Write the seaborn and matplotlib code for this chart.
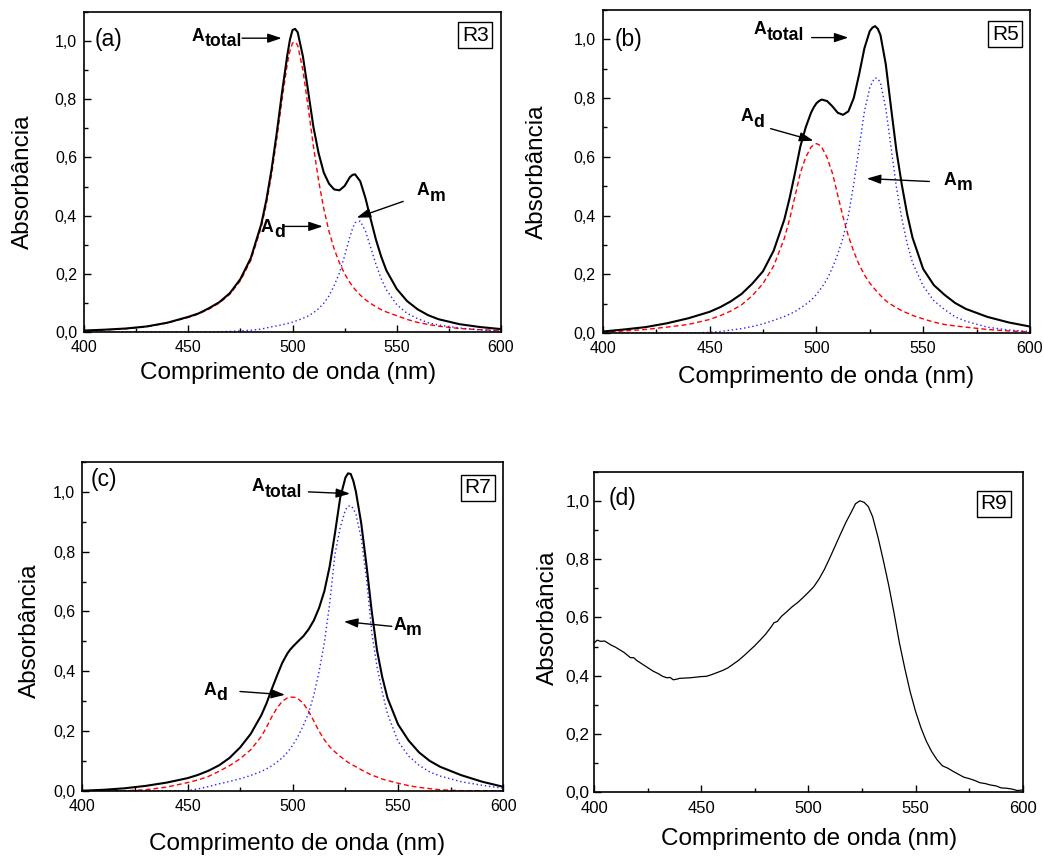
import matplotlib
matplotlib.use("Agg")
import matplotlib.pyplot as plt
from matplotlib.ticker import MultipleLocator
import seaborn as sns

# comprimentos de onda (nm) para os espectros ajustados (a), (b), (c)
wl = [400, 410, 420, 430, 440, 450, 455, 460, 465, 470, 475, 480,
      485, 487.5, 490, 492.5, 495, 497.5, 498.75, 500, 501.25, 502.5, 505, 507.5, 510,
      512.5, 515, 517.5, 520, 522.5, 525, 526.25, 527.5, 528.75, 530, 532.5, 535, 537.5,
      540, 542.5, 545, 550, 555, 560, 565, 570, 580, 590, 600]

# (a) R3
a_total = [0.005, 0.008, 0.012, 0.019, 0.032, 0.052, 0.064, 0.082, 0.103, 0.134, 0.182, 0.254,
           0.370, 0.455, 0.561, 0.687, 0.825, 0.951, 1.004, 1.038, 1.042, 1.030, 0.947, 0.828,
           0.706, 0.615, 0.548, 0.510, 0.490, 0.487, 0.502, 0.517, 0.532, 0.540, 0.542, 0.518,
           0.460, 0.388, 0.318, 0.260, 0.212, 0.148, 0.106, 0.078, 0.058, 0.044, 0.027, 0.017,
           0.010]
a_d = [0.004, 0.007, 0.011, 0.018, 0.031, 0.050, 0.062, 0.079, 0.100, 0.130, 0.176, 0.246,
       0.360, 0.441, 0.543, 0.666, 0.800, 0.922, 0.966, 0.993, 0.997, 0.985, 0.900, 0.773,
       0.640, 0.521, 0.424, 0.346, 0.285, 0.238, 0.200, 0.185, 0.170, 0.158, 0.146, 0.127,
       0.111, 0.098, 0.087, 0.077, 0.069, 0.056, 0.043, 0.033, 0.026, 0.020, 0.012, 0.008,
       0.005]
a_m = [0, 0, 0, 0, 0, 0, 0, 0, 0.001, 0.002, 0.004, 0.006,
       0.010, 0.014, 0.018, 0.021, 0.025, 0.029, 0.031, 0.034, 0.037, 0.040, 0.047, 0.055,
       0.066, 0.080, 0.099, 0.124, 0.160, 0.203, 0.262, 0.295, 0.327, 0.355, 0.376, 0.381,
       0.347, 0.290, 0.233, 0.184, 0.145, 0.094, 0.064, 0.046, 0.032, 0.024, 0.014, 0.007,
       0.003]

# (b) R5
b_total = [0.005, 0.012, 0.020, 0.033, 0.050, 0.072, 0.088, 0.108, 0.133, 0.168, 0.210, 0.280,
           0.386, 0.460, 0.545, 0.635, 0.700, 0.750, 0.768, 0.782, 0.790, 0.795, 0.790, 0.772,
           0.750, 0.743, 0.755, 0.800, 0.880, 0.970, 1.028, 1.040, 1.045, 1.036, 1.015, 0.915,
           0.765, 0.620, 0.505, 0.405, 0.325, 0.218, 0.163, 0.130, 0.102, 0.082, 0.055, 0.036,
           0.022]
b_d = [0.003, 0.007, 0.012, 0.020, 0.029, 0.046, 0.059, 0.075, 0.096, 0.127, 0.168, 0.228,
       0.322, 0.388, 0.465, 0.545, 0.598, 0.633, 0.641, 0.645, 0.641, 0.633, 0.598, 0.545,
       0.470, 0.395, 0.330, 0.277, 0.233, 0.198, 0.170, 0.159, 0.148, 0.138, 0.128, 0.110,
       0.097, 0.086, 0.076, 0.068, 0.060, 0.048, 0.037, 0.029, 0.024, 0.020, 0.012, 0.007,
       0.004]
b_m = [0, 0, 0, 0, 0, 0.002, 0.005, 0.010, 0.015, 0.022, 0.031, 0.043,
       0.056, 0.064, 0.073, 0.085, 0.097, 0.112, 0.121, 0.131, 0.143, 0.155, 0.183, 0.222,
       0.268, 0.325, 0.400, 0.508, 0.630, 0.755, 0.835, 0.856, 0.869, 0.866, 0.852, 0.765,
       0.630, 0.495, 0.390, 0.305, 0.240, 0.160, 0.110, 0.080, 0.055, 0.040, 0.020, 0.010,
       0.005]

# (c) R7
c_total = [0.0, 0.003, 0.008, 0.016, 0.027, 0.042, 0.053, 0.067, 0.085, 0.110, 0.145, 0.190,
           0.252, 0.292, 0.340, 0.385, 0.428, 0.460, 0.472, 0.482, 0.491, 0.500, 0.517, 0.540,
           0.570, 0.612, 0.668, 0.750, 0.860, 0.980, 1.048, 1.062, 1.060, 1.037, 1.000, 0.895,
           0.755, 0.600, 0.470, 0.380, 0.310, 0.222, 0.168, 0.128, 0.100, 0.080, 0.052, 0.030,
           0.013]
c_d = [0, 0, 0, 0.003, 0.012, 0.027, 0.036, 0.048, 0.065, 0.084, 0.107, 0.137,
       0.181, 0.212, 0.247, 0.277, 0.299, 0.311, 0.313, 0.313, 0.312, 0.308, 0.292, 0.266,
       0.233, 0.199, 0.170, 0.147, 0.130, 0.115, 0.101, 0.095, 0.089, 0.085, 0.080, 0.070,
       0.061, 0.052, 0.046, 0.039, 0.034, 0.025, 0.017, 0.011, 0.007, 0.003, 0, 0, 0]
c_m = [0, 0, 0, 0, 0, 0, 0.006, 0.014, 0.023, 0.031, 0.040, 0.051,
       0.064, 0.073, 0.083, 0.096, 0.110, 0.129, 0.140, 0.153, 0.167, 0.182, 0.218, 0.260,
       0.320, 0.400, 0.495, 0.625, 0.790, 0.880, 0.940, 0.952, 0.954, 0.944, 0.925, 0.845,
       0.710, 0.530, 0.415, 0.330, 0.257, 0.165, 0.116, 0.085, 0.063, 0.049, 0.030, 0.018,
       0.008]

# (d) R9 - espectro medido
wl_d = [400, 401.5, 403, 405, 406.5, 408, 410, 412, 414, 416, 417, 418.5, 420, 422.5, 425,
        427.5, 430, 432, 434, 435.5, 437, 438.5, 440, 442.5, 445, 447.5, 450, 452.5, 455,
        457.5, 460, 462.5, 465, 467.5, 470, 472.5, 475, 477.5, 480, 482.5, 484, 485.5, 487.5,
        490, 492.5, 495, 497.5, 500, 502.5, 505, 507.5, 510, 512.5, 515, 517.5, 520, 522,
        524, 526, 528, 530, 532.5, 535, 537.5, 540, 542.5, 545, 547.5, 550, 552.5, 555,
        557.5, 560, 562.5, 565, 567.5, 570, 572.5, 575, 577.5, 580, 582.5, 585, 587.5, 590,
        592.5, 595, 597.5, 600]
d_abs = [0.512, 0.522, 0.518, 0.519, 0.512, 0.505, 0.498, 0.489, 0.480, 0.468, 0.462, 0.462,
         0.452, 0.440, 0.428, 0.416, 0.407, 0.398, 0.393, 0.394, 0.386, 0.388, 0.391, 0.392,
         0.393, 0.395, 0.397, 0.398, 0.404, 0.411, 0.418, 0.427, 0.440, 0.453, 0.469, 0.486,
         0.503, 0.522, 0.542, 0.566, 0.582, 0.586, 0.604, 0.620, 0.637, 0.651, 0.668, 0.686,
         0.705, 0.732, 0.765, 0.804, 0.845, 0.886, 0.926, 0.961, 0.990, 1.000, 0.995, 0.980,
         0.945, 0.875, 0.795, 0.710, 0.614, 0.512, 0.425, 0.345, 0.278, 0.222, 0.176, 0.140,
         0.112, 0.091, 0.083, 0.072, 0.062, 0.052, 0.047, 0.041, 0.033, 0.030, 0.025, 0.022,
         0.015, 0.014, 0.011, 0.006, 0.008]

y_ticks = [0.0, 0.2, 0.4, 0.6, 0.8, 1.0]
y_tick_labels = ["0,0", "0,2", "0,4", "0,6", "0,8", "1,0"]
x_ticks = [400, 450, 500, 550, 600]

sns.set_style("ticks", {"axes.edgecolor": "black", "xtick.color": "black",
                        "ytick.color": "black", "text.color": "black",
                        "axes.labelcolor": "black"})
plt.rcParams["font.family"] = ["Liberation Sans", "DejaVu Sans"]

fig = plt.figure(figsize=(10.44, 8.57), dpi=100)

# posicoes dos paineis em pixels: esquerda, direita, topo, base
boxes = {"a": (84, 501, 12, 332), "b": (602.7, 1030, 10, 333),
         "c": (82.3, 503.3, 462, 790.7), "d": (594, 1022.7, 471.7, 792.3)}
axs = {}
for k, (l, r, t, b) in boxes.items():
    axs[k] = fig.add_axes([l / 1044, (857 - b) / 857, (r - l) / 1044, (b - t) / 857])

arrow = dict(arrowstyle="-|>,head_length=0.6,head_width=0.2", mutation_scale=14,
             color="black", lw=1.0, shrinkA=0, shrinkB=0)


def label_A(ax, x, y, sub):
    t = ax.text(x, y, "A", fontsize=12.7, fontweight="bold", ha="left", va="baseline")
    ax.annotate(sub, xy=(1, 0), xycoords=t, xytext=(0, -1), textcoords="offset points",
                fontsize=12.7, fontweight="bold", ha="left", va="baseline")


def seta(ax, tail, tip):
    ax.annotate("", xy=tip, xytext=tail, arrowprops=arrow)


def fit_panel(ax, tot, ad, am):
    sns.lineplot(x=wl, y=ad, ax=ax, color="#ff0000", lw=1.0, linestyle=(0, (3.5, 2.2)))
    sns.lineplot(x=wl, y=am, ax=ax, color="#2222ff", lw=1.0, linestyle=(0, (1, 2)))
    sns.lineplot(x=wl, y=tot, ax=ax, color="black", lw=1.5)


fit_panel(axs["a"], a_total, a_d, a_m)
fit_panel(axs["b"], b_total, b_d, b_m)
fit_panel(axs["c"], c_total, c_d, c_m)
sns.lineplot(x=wl_d, y=d_abs, ax=axs["d"], color="black", lw=0.9)

# anotacoes
ax = axs["a"]
label_A(ax, 451.7, 1.002, "total"); seta(ax, (475.8, 1.01), (494.8, 1.01))
label_A(ax, 484.9, 0.344, "d"); seta(ax, (495.4, 0.363), (514.5, 0.363))
label_A(ax, 559.6, 0.470, "m"); seta(ax, (553.1, 0.449), (530.8, 0.393))
ax = axs["b"]
label_A(ax, 470.8, 1.017, "total"); seta(ax, (497.8, 1.006), (515.0, 1.006))
label_A(ax, 464.6, 0.721, "d"); seta(ax, (478.6, 0.696), (498.6, 0.655))
label_A(ax, 559.7, 0.505, "m"); seta(ax, (552.9, 0.516), (523.6, 0.526))
ax = axs["c"]
label_A(ax, 480.5, 1.002, "total"); seta(ax, (507.4, 1.0), (527.2, 0.994))
label_A(ax, 457.5, 0.321, "d"); seta(ax, (474.9, 0.332), (496.3, 0.321))
label_A(ax, 547.7, 0.539, "m"); seta(ax, (547.0, 0.550), (524.3, 0.566))

letters = {"a": ("(a)", 0.025, 0.949), "b": ("(b)", 0.029, 0.943),
           "c": ("(c)", 0.020, 0.981), "d": ("(d)", 0.033, 0.953)}
samples = {"a": ("R3", 0.938, 0.928), "b": ("R5", 0.942, 0.925),
           "c": ("R7", 0.940, 0.9215), "d": ("R9", 0.933, 0.900)}
xlab = {"a": (0.49, -0.095), "b": (0.522, -0.102), "c": (0.509, -0.128), "d": (0.502, -0.111)}
ylab = {"a": (-0.12, 0.47), "b": (-0.128, 0.50), "c": (-0.099, 0.487), "d": (-0.082, 0.546)}

for k, ax in axs.items():
    ax.set_xlim(400, 600)
    ax.set_ylim(0, 1.1)
    ax.set_xticks(x_ticks)
    ax.set_yticks(y_ticks, y_tick_labels)
    ax.xaxis.set_minor_locator(MultipleLocator(25))
    ax.yaxis.set_minor_locator(MultipleLocator(0.1))
    ax.tick_params(which="both", direction="in", top=False, right=False, width=1,
                   labelsize=11.5)
    ax.tick_params(which="major", length=5)
    ax.tick_params(which="minor", length=3)
    ax.tick_params(axis="x", pad=6)
    if k == "d":
        ax.tick_params(axis="y", pad=3, labelsize=12.5)
        ax.tick_params(axis="x", labelsize=12)
    else:
        ax.tick_params(axis="y", pad=5)
    for s in ax.spines.values():
        s.set_linewidth(1.2)
        s.set_visible(True)
    ax.set_xlabel("Comprimento de onda (nm)", fontsize=17.5)
    ax.set_ylabel("Absorbância", fontsize=17.5)
    ax.xaxis.set_label_coords(*xlab[k])
    ax.yaxis.set_label_coords(*ylab[k])
    txt, lx, ly = letters[k]
    ax.text(lx, ly, txt, transform=ax.transAxes, fontsize=16.5, ha="left", va="top")
    txt, rx, ry = samples[k]
    ax.text(rx, ry, txt, transform=ax.transAxes, fontsize=15, ha="center", va="center",
            bbox=dict(boxstyle="square,pad=0.18", fc="white", ec="black", lw=1.0))

fig.savefig("out.png", dpi=100)
